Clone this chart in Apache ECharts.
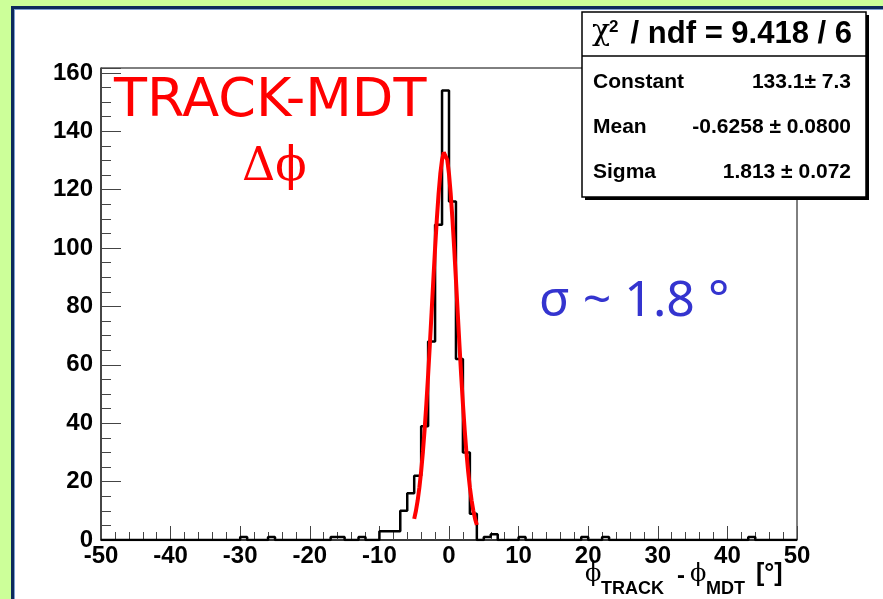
<!DOCTYPE html>
<html>
<head>
<meta charset="utf-8">
<script src="https://cdn.jsdelivr.net/npm/echarts@6/dist/echarts.min.js"></script>
<style>
  html, body { margin: 0; padding: 0; background: #ccff99; }
  #chart { width: 883px; height: 599px; }
</style>
</head>
<body>
<div id="chart"></div>
<script>
// histogram: 100 bins of width 1 from -50 to 50
const binLow = -50
const binWidth = 1
const counts = [
  0, 0, 0, 0, 0, 0, 0, 0, 0, 0,
  0, 0, 0, 0, 0, 0, 0, 0, 0, 0,
  1, 0, 0, 0, 1, 0, 0, 0, 0, 0,
  0, 0, 0, 1, 1, 0, 0, 1, 0, 0,
  3, 3, 3, 10, 16, 22, 39, 68, 108, 154,
  116, 62, 30, 9, 0, 1, 2, 0, 0, 0,
  1, 0, 0, 0, 0, 0, 0, 0, 0, 1,
  0, 0, 1, 0, 0, 0, 0, 0, 0, 0,
  0, 0, 0, 0, 0, 0, 0, 0, 0, 0,
  0, 0, 0, 1, 0, 0, 0, 0, 0, 0
]

// gaussian fit curve (fit range about -5 .. 4)
const fitX = [-5, -4.75, -4.5, -4.25, -4, -3.75, -3.5, -3.25, -3, -2.75, -2.5, -2.25, -2,
  -1.75, -1.5, -1.25, -1, -0.75, -0.5, -0.25, 0, 0.25, 0.5, 0.75, 1, 1.25, 1.5, 1.75,
  2, 2.25, 2.5, 2.75, 3, 3.25, 3.5, 3.75, 4]
const fitY = [7.25, 10.01, 13.57, 18.05, 23.55, 30.16, 37.88, 46.70, 56.47, 67.00, 78.00, 89.11, 99.87,
  109.82, 118.49, 125.44, 130.29, 132.79, 132.78, 130.27, 125.40, 118.44, 109.76, 99.80, 89.04, 77.93, 66.93, 56.40,
  46.63, 37.83, 30.11, 23.51, 18.02, 13.54, 9.99, 7.23, 5.13]

// stats box
const statTitle = '/ ndf = 9.418 / 6'
const statNames = ['Constant', 'Mean', 'Sigma']
const statValues = ['133.1\u00b1 7.3', '-0.6258 \u00b1 0.0800', '1.813 \u00b1 0.072']

const xMin = -50
const xMax = 50
const yMax = 161.7

const histData = []
for (let i = 0; i < counts.length; i++) {
  histData.push([binLow + i * binWidth, counts[i]])
}
histData.push([binLow + counts.length * binWidth, counts[counts.length - 1]])

const fitData = fitX.map((x, i) => [x, fitY[i]])

const chart = echarts.init(document.getElementById('chart'))

const sans = "'Liberation Sans', Arial, sans-serif"
const serif = "'DejaVu Serif', 'Liberation Serif', serif"
const PHI = '\u03d5'

function txt (text, x, y, font, fill, align, z) {
  return {
    type: 'text',
    z: z || 60,
    style: { text: text, x: x, y: y, font: font, fill: fill || '#000', textAlign: align || 'left', textVerticalAlign: 'middle' }
  }
}

const graphics = [
  // white pad + navy frame
  { type: 'rect', z: -10, shape: { x: 15, y: 10, width: 868, height: 589 }, style: { fill: '#ffffff' } },
  { type: 'rect', z: -9, shape: { x: 11, y: 6, width: 872, height: 3 }, style: { fill: '#0d2a5c' } },
  { type: 'rect', z: -9, shape: { x: 11, y: 6, width: 3, height: 593 }, style: { fill: '#0d2a5c' } },
  { type: 'rect', z: -9, shape: { x: 14, y: 9, width: 869, height: 1 }, style: { fill: '#7f9fd0' } },
  { type: 'rect', z: -9, shape: { x: 14, y: 9, width: 1, height: 590 }, style: { fill: '#7f9fd0' } },

  // labels in the pad
  txt('TRACK-MDT', 114, 102, "54px 'DejaVu Sans', sans-serif", '#ff0000'),
  txt('\u0394' + PHI, 242, 168, '46px ' + serif, '#ff0000'),
  txt('\u03c3 ~ 1.8 \u00b0', 539, 302, "50px 'Noto Sans', sans-serif", '#3434cf'),

  // x axis title
  txt(PHI, 585, 575, '24px ' + serif),
  txt('TRACK', 601, 589, 'bold 18px ' + sans),
  txt('-', 677, 576, 'bold 24px ' + sans),
  txt(PHI, 690, 575, '24px ' + serif),
  txt('MDT', 706, 589, 'bold 18px ' + sans),
  txt('[\u00b0]', 756, 574, 'bold 25px ' + sans),

  // stats box
  { type: 'rect', z: 70, shape: { x: 585, y: 15, width: 284, height: 185 }, style: { fill: '#000' } },
  { type: 'rect', z: 71, shape: { x: 582, y: 12, width: 284, height: 185 }, style: { fill: '#fff', stroke: '#000', lineWidth: 1.5 } },
  { type: 'line', z: 72, shape: { x1: 582, y1: 56, x2: 866, y2: 56 }, style: { stroke: '#000', lineWidth: 1.5 } },
  txt('\u03c7', 592, 32, '30px ' + serif, '#000', 'left', 73),
  txt('2', 609, 27, 'bold 17px ' + sans, '#000', 'left', 73),
  txt(statTitle, 852, 34, 'bold 31px ' + sans, '#000', 'right', 73)
]

const rowY = [82, 127, 172]
statNames.forEach((name, i) => {
  graphics.push(txt(name, 593, rowY[i], 'bold 21px ' + sans, '#000', 'left', 73))
  graphics.push(txt(statValues[i], 851, rowY[i], 'bold 21px ' + sans, '#000', 'right', 73))
})

const option = {
  backgroundColor: '#ccff99',
  animation: false,
  grid: {
    left: 101,
    right: 86,
    top: 68,
    bottom: 59,
    show: true,
    borderColor: '#000',
    borderWidth: 1,
    backgroundColor: 'transparent'
  },
  xAxis: {
    type: 'value',
    min: xMin,
    max: xMax,
    interval: 10,
    axisLine: { show: true, onZero: false, lineStyle: { color: '#222', width: 1.5 } },
    axisTick: { show: true, inside: true, length: 14, lineStyle: { color: '#444', width: 1 } },
    minorTick: { show: true, splitNumber: 5, length: 8, lineStyle: { color: '#444', width: 1 } },
    splitLine: { show: false },
    axisLabel: { color: '#000', fontFamily: sans, fontWeight: 'bold', fontSize: 24, margin: 4 }
  },
  yAxis: [
    {
      type: 'value',
      min: 0,
      max: yMax,
      interval: 20,
      position: 'left',
      axisLine: { show: true, onZero: false, lineStyle: { color: '#333', width: 1.5 } },
      axisTick: { show: true, inside: true, length: 20, lineStyle: { color: '#444', width: 1 } },
      splitLine: { show: false },
      axisLabel: {
        color: '#000', fontFamily: sans, fontWeight: 'bold', fontSize: 24, margin: 8,
        formatter: v => (Math.abs(v % 20) < 1e-6 ? String(v) : '')
      }
    },
    {
      // minor ticks every 5
      type: 'value',
      min: 0,
      max: yMax,
      interval: 5,
      position: 'left',
      axisLine: { show: false, onZero: false },
      axisTick: { show: true, inside: true, length: 10, lineStyle: { color: '#444', width: 1 } },
      splitLine: { show: false },
      axisLabel: { show: false }
    }
  ],
  series: [
    {
      type: 'line',
      data: histData,
      step: 'end',
      showSymbol: false,
      lineStyle: { color: '#000', width: 2.5 },
      z: 3
    },
    {
      type: 'line',
      data: fitData,
      showSymbol: false,
      smooth: false,
      lineStyle: { color: '#ff0000', width: 4 },
      z: 4
    }
  ],
  graphic: graphics
}

chart.setOption(option)
</script>
</body>
</html>
